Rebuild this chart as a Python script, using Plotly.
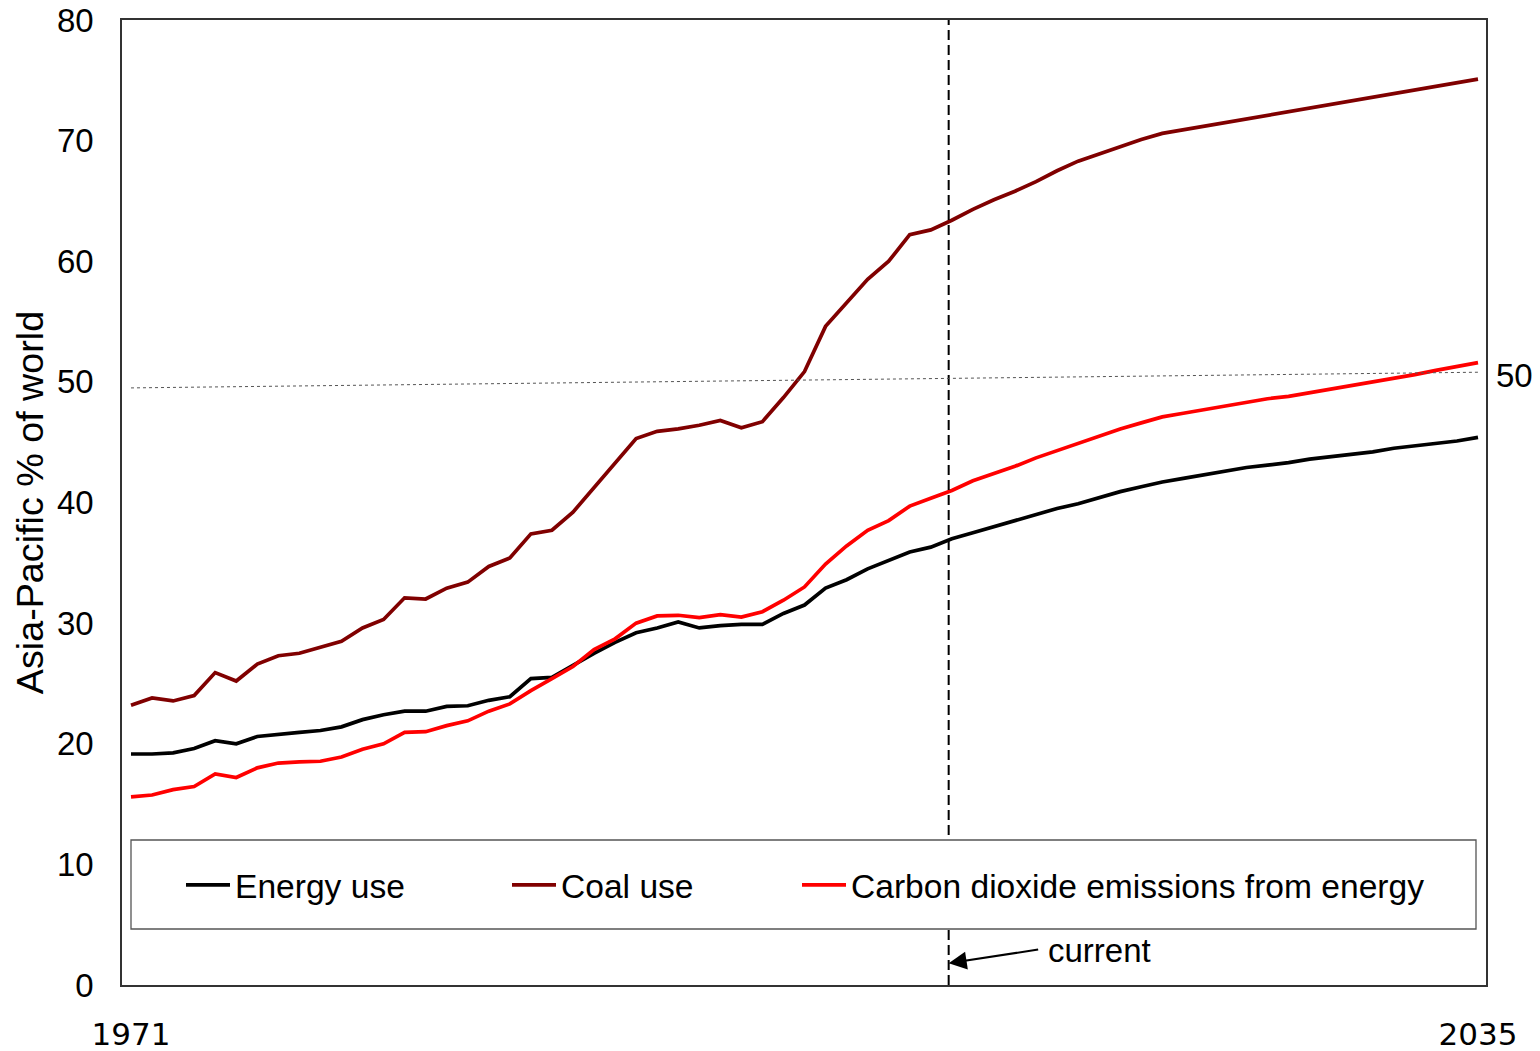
import plotly.graph_objects as go

years = list(range(1971, 2036))

energy_use = [
    19.15, 19.15, 19.25, 19.6, 20.25, 20.0, 20.6, 20.8, 20.95, 21.1,
    21.4, 22.0, 22.4, 22.7, 22.7, 23.1, 23.15, 23.6, 23.9, 25.4,
    25.5, 26.5, 27.5, 28.4, 29.2, 29.6, 30.1, 29.6, 29.8, 29.9,
    29.9, 30.8, 31.5, 32.9, 33.6, 34.5, 35.2, 35.9, 36.3, 37.0,
    37.5, 38.0, 38.5, 39.0, 39.5, 39.9, 40.4, 40.9, 41.3, 41.7,
    42.0, 42.3, 42.6, 42.9, 43.1, 43.3, 43.6, 43.8, 44.0, 44.2,
    44.5, 44.7, 44.9, 45.1, 45.4,
]

coal_use = [
    23.2, 23.8, 23.55, 24.0, 25.9, 25.2, 26.6, 27.3, 27.5, 28.0,
    28.5, 29.6, 30.3, 32.1, 32.0, 32.9, 33.4, 34.7, 35.4, 37.4,
    37.7, 39.2, 41.2, 43.2, 45.3, 45.9, 46.1, 46.4, 46.8, 46.2,
    46.7, 48.7, 50.85, 54.6, 56.5, 58.5, 60.0, 62.2, 62.6, 63.4,
    64.3, 65.1, 65.8, 66.6, 67.5, 68.3, 68.9, 69.5, 70.1, 70.6,
    70.9, 71.2, 71.5, 71.8, 72.1, 72.4, 72.7, 73.0, 73.3, 73.6,
    73.9, 74.2, 74.5, 74.8, 75.1,
]

co2_emissions = [
    15.6, 15.75, 16.2, 16.45, 17.5, 17.2, 18.0, 18.4, 18.5, 18.55,
    18.9, 19.55, 20.0, 20.95, 21.0, 21.5, 21.9, 22.7, 23.3, 24.4,
    25.4, 26.4, 27.8, 28.7, 30.0, 30.6, 30.65, 30.45, 30.7, 30.5,
    30.95, 31.9, 33.0, 34.9, 36.4, 37.7, 38.5, 39.7, 40.35, 41.0,
    41.8, 42.4, 43.0, 43.7, 44.3, 44.9, 45.5, 46.1, 46.6, 47.1,
    47.4, 47.7, 48.0, 48.3, 48.6, 48.8, 49.1, 49.4, 49.7, 49.95,
    50.3, 50.6, 50.95, 51.3, 51.6,
]

series_names = ["Energy use", "Coal use", "Carbon dioxide emissions from energy"]
series_colors = ["#000000", "#800000", "#ff0000"]
y_ticks = [0, 10, 20, 30, 40, 50, 60, 70, 80]
x_ticks = [1971, 2035]
x_tick_labels = ["1971", "2035"]
current_year = 2009.85
ref_line = [49.5, 50.8]  # hand-drawn 50% guide at start / end

ARIAL = "Liberation Sans, Arial, sans-serif"

fig = go.Figure()
series = [energy_use, coal_use, co2_emissions]
legend_ids = ["legend", "legend2", "legend3"]
for vals, name, col, lg in zip(series, series_names, series_colors, legend_ids):
    fig.add_trace(go.Scatter(
        x=years, y=vals, mode="lines", name=name,
        line=dict(color=col, width=3.7), legend=lg, hoverinfo="skip",
    ))

# page body has an 8px margin; compensate so plot area sits at 122..1486 x 20..985
OFF = 8
W, H = 1540 - OFF, 1051 - OFF
PL, PR, PT, PB = 122, 1486, 20, 985
L, T = PL - OFF, PT - OFF
R = W + OFF - PR
B = H + OFF - PB
pw = PR - PL
ph = PB - PT


def px_x(p):
    return (p - PL) / pw


def px_y(p):
    return (PB - p) / ph


shapes = [
    dict(type="line", xref="x", yref="paper", x0=current_year, x1=current_year,
         y0=0, y1=1, line=dict(color="black", width=2, dash="10px,5px"), layer="above"),
    dict(type="line", xref="x", yref="y", x0=years[0], x1=years[-1],
         y0=ref_line[0], y1=ref_line[1], line=dict(color="#555555", width=1, dash="dot"),
         layer="above"),
    dict(type="rect", xref="paper", yref="paper", x0=px_x(131), x1=px_x(1476),
         y0=px_y(929), y1=px_y(840), line=dict(color="#555555", width=1.3),
         fillcolor="white", layer="above"),
]

leg_common = dict(orientation="h", bgcolor="rgba(0,0,0,0)", borderwidth=0,
                  font=dict(family=ARIAL, size=33.6, color="black"),
                  itemwidth=44, yanchor="middle", y=px_y(885), xanchor="left",
                  itemclick=False, itemdoubleclick=False)

fig.update_layout(
    width=W, height=H,
    margin=dict(l=L, r=R, t=T, b=B, autoexpand=False),
    paper_bgcolor="white", plot_bgcolor="white",
    showlegend=True,
    legend=dict(**leg_common, x=px_x(181)),
    legend2=dict(**leg_common, x=px_x(507)),
    legend3=dict(**leg_common, x=px_x(797)),
    shapes=shapes,
    xaxis=dict(
        range=[1971 - 9 / 21.047, 2035 + 8 / 21.047],
        tickvals=x_ticks, ticktext=x_tick_labels, ticks="",
        tickfont=dict(family="DejaVu Sans, Verdana, sans-serif", size=31, color="black"),
        ticklabelstandoff=21, ticklabeloverflow="allow",
        showgrid=False, zeroline=False,
        showline=True, linecolor="#333333", linewidth=1.5, mirror=True,
    ),
    yaxis=dict(
        range=[0, 80], tickvals=y_ticks, ticks="",
        tickfont=dict(family=ARIAL, size=33, color="black"),
        ticklabelstandoff=20, ticklabeloverflow="allow",
        showgrid=False, zeroline=False,
        showline=True, linecolor="#333333", linewidth=1.5, mirror=True,
        title=dict(text="Asia-Pacific % of world", standoff=2,
                   font=dict(family=ARIAL, size=37.7, color="black")),
    ),
    annotations=[
        dict(x=current_year, y=1.8, xref="x", yref="y", text="", showarrow=True,
             ax=91, ay=-14, axref="pixel", ayref="pixel",
             arrowhead=2, arrowsize=1.8, arrowwidth=2, arrowcolor="black"),
        dict(x=px_x(1046), y=px_y(950), xref="paper", yref="paper", text="current",
             showarrow=False, xanchor="left", yanchor="middle",
             font=dict(family=ARIAL, size=33, color="black")),
        dict(x=px_x(1494), y=50.5, xref="paper", yref="y", text="50",
             showarrow=False, xanchor="left", yanchor="middle",
             font=dict(family=ARIAL, size=33, color="black")),
    ],
)

fig.write_html("out.html")
